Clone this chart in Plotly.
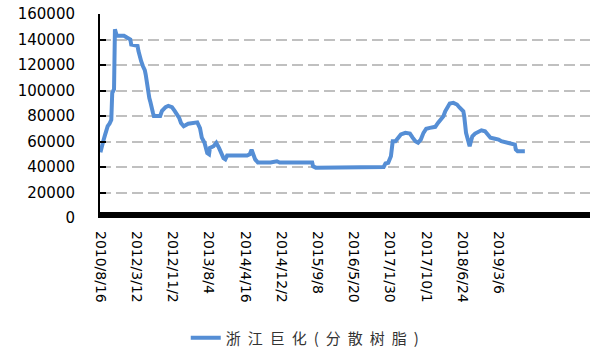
import plotly.graph_objects as go

# Observation index (category position) and price, yuan/ton
obs_index = [0, 1, 3, 5, 6, 8, 10, 11, 12, 13, 15, 16, 17, 18, 26, 28, 30, 33, 34, 41,
             42, 43, 45, 47, 49, 50, 51, 52, 53, 54, 55, 56, 58, 59, 66, 68, 72, 75, 79, 82,
             85, 87, 89, 92, 97, 107, 110, 111, 112, 115, 116, 118, 120, 121, 125, 128, 131, 133, 136, 138,
             140, 162, 165, 167, 169, 171, 174, 182, 185, 188, 195, 198, 234, 235, 238, 313, 315, 318, 321, 322,
             323, 326, 329, 332, 337, 342, 345, 348, 351, 354, 357, 360, 364, 370, 373, 375, 379, 381, 383, 386,
             390, 394, 397, 401, 402, 403, 404, 406, 407, 408, 409, 411, 414, 418, 421, 425, 428, 431, 436, 440,
             443, 449, 454, 458, 459, 461, 469]
price = [51500, 56000, 60000, 65000, 68000, 72000, 74000, 75000, 77000, 98000, 101000, 148000, 144000, 143000, 143000, 142000, 141000, 140000, 136000, 135000,
         131000, 127000, 123000, 119000, 116000, 112500, 107000, 102000, 99500, 94000, 91500, 87000, 82500, 80000, 80000, 84000, 87000, 88000, 87000, 84000,
         81000, 78500, 74500, 72000, 74000, 75000, 70500, 67000, 63000, 59000, 55000, 51000, 50000, 55000, 56300, 59000, 55000, 51000, 47000, 46000,
         49000, 49000, 50000, 53500, 50000, 46000, 43500, 43500, 44000, 43500, 44500, 43500, 43500, 40500, 39500, 40000, 42700, 43300, 48500, 56300,
         60200, 60200, 63000, 65500, 66800, 66200, 63000, 60200, 59000, 61500, 66800, 70000, 70700, 71500, 74600, 76000, 79800, 83700, 86400, 89800,
         90300, 89000, 86500, 83700, 79800, 72000, 66800, 61500, 57600, 56300, 59000, 64100, 66200, 68000, 68800, 68000, 65500, 62900, 62100, 61500,
         60200, 59000, 58400, 57600, 53700, 52400, 52400]

tick_pos = [0, 40, 80, 120, 160, 200, 240, 280, 320, 360, 400, 440]
tick_labels = ["2010/8/16", "2012/3/12", "2012/11/2", "2013/8/4", "2014/4/16", "2014/12/2",
               "2015/9/8", "2016/5/20", "2017/1/30", "2017/10/1", "2018/6/24", "2019/3/6"]
y_ticks = [0, 20000, 40000, 60000, 80000, 100000, 120000, 140000, 160000]
y_tick_labels = [str(v) for v in y_ticks]

series_name = "浙江巨化(分散树脂)"
line_color = "#558ED5"

x_range = [-0.5, 541]
y_range = [0, 160000]
plot_height_px = 204
band_px = 6  # thickness of the dense category-tick band on the horizontal axis
band_top = y_range[1] * band_px / plot_height_px

fig = go.Figure()
# dense tick band along the category axis
fig.add_trace(go.Scatter(
    x=x_range, y=[band_top, band_top], mode="lines", fill="tozeroy",
    fillcolor="black", line=dict(width=0, color="black"),
    showlegend=False, hoverinfo="skip",
))
fig.add_trace(go.Scatter(
    x=obs_index, y=price, mode="lines",
    name='<span style="letter-spacing:7px">' + series_name + "</span>",
    line=dict(color=line_color, width=4),
))

fig.update_layout(
    template="none",
    width=596, height=354,
    margin=dict(l=100, r=6, t=14, b=136, pad=0),
    paper_bgcolor="white", plot_bgcolor="white",
    font=dict(family="DejaVu Sans, sans-serif", color="black"),
    showlegend=True,
    legend=dict(
        orientation="h", x=0.175, xanchor="left",
        yref="container", y=(354 - 338) / 354, yanchor="middle",
        font=dict(family="Noto Sans CJK SC", size=15, color="#333"),
        bgcolor="rgba(0,0,0,0)",
    ),
    xaxis=dict(
        range=x_range, showgrid=False, zeroline=False, automargin=False,
        tickmode="array", tickvals=tick_pos, ticktext=tick_labels,
        tickangle=90, tickfont=dict(size=14), ticks="",
        showline=False, ticklabelstandoff=12,
    ),
    yaxis=dict(
        range=y_range, tickmode="array", tickvals=y_ticks, ticktext=y_tick_labels,
        tickfont=dict(size=15), ticks="inside", ticklen=6, tickwidth=1.5, tickcolor="black",
        showline=True, linecolor="black", linewidth=2, automargin=False,
        showgrid=True, gridcolor="#C0C0C0", gridwidth=1.5, griddash="11px,5px",
        zeroline=False, ticklabelstandoff=20,
    ),
)

fig.write_html("out.html")
